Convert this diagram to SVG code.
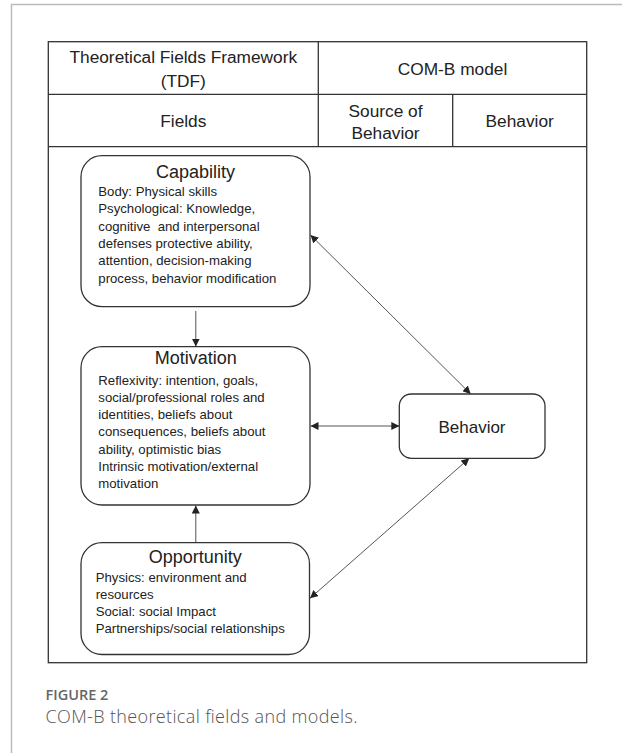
<svg xmlns="http://www.w3.org/2000/svg" width="622" height="753" viewBox="0 0 622 753">
<defs>
<style>
.frame{fill:none;stroke:#bbbbbb;stroke-width:1.5}
.tbl{fill:none;stroke:#333;stroke-width:1.3}
.box{fill:#fff;stroke:#333;stroke-width:1.3}
.hdr{font-family:"Liberation Sans",Arial,sans-serif;font-size:17.3px;fill:#222;text-anchor:middle}
.ttl{font-family:"Liberation Sans",Arial,sans-serif;font-size:18px;fill:#222;text-anchor:middle}
.body{font-family:"Liberation Sans",Arial,sans-serif;font-size:13.2px;fill:#222;white-space:pre}
.conn{fill:none;stroke:#555;stroke-width:1}
.cap1{font-family:"Open Sans",sans-serif;font-size:14.5px;font-weight:600;fill:#666}
.cap2{font-family:"Open Sans",sans-serif;font-size:18px;font-weight:300;fill:#555}
</style>
<marker id="ah" viewBox="0 0 10 10" refX="10" refY="5" markerWidth="8" markerHeight="8" markerUnits="userSpaceOnUse" orient="auto-start-reverse">
<path d="M0,0 L10,5 L0,10 z" fill="#222"/>
</marker>
</defs>
<rect width="622" height="753" fill="#fff"/>
<path class="frame" d="M11.5,753 V4.5 H622"/>
<g id="table">
<rect class="tbl" x="48.3" y="41.7" width="538.4" height="621"/>
<line class="tbl" x1="48.3" y1="94.3" x2="586.7" y2="94.3"/>
<line class="tbl" x1="48.3" y1="146.7" x2="586.7" y2="146.7"/>
<line class="tbl" x1="318.3" y1="41.7" x2="318.3" y2="146.7"/>
<line class="tbl" x1="452.7" y1="94.3" x2="452.7" y2="146.7"/>
<text class="hdr" x="183.3" y="63.3">Theoretical Fields Framework</text>
<text class="hdr" x="183.3" y="86.7">(TDF)</text>
<text class="hdr" x="452.5" y="75">COM-B model</text>
<text class="hdr" x="183.3" y="127.3">Fields</text>
<text class="hdr" x="385.5" y="117.3">Source of</text>
<text class="hdr" x="385.5" y="139">Behavior</text>
<text class="hdr" x="519.7" y="127.3">Behavior</text>
</g>
<g id="connectors">
<line class="conn" x1="195.8" y1="311" x2="195.8" y2="346.5" marker-end="url(#ah)"/>
<line class="conn" x1="195.8" y1="542.7" x2="195.8" y2="505.5" marker-end="url(#ah)"/>
<line class="conn" x1="310.5" y1="235" x2="470.7" y2="394" marker-start="url(#ah)" marker-end="url(#ah)"/>
<line class="conn" x1="310.5" y1="426" x2="399.3" y2="426" marker-start="url(#ah)" marker-end="url(#ah)"/>
<line class="conn" x1="310" y1="598.3" x2="469.3" y2="458.3" marker-start="url(#ah)" marker-end="url(#ah)"/>
</g>
<g id="capability">
<rect class="box" x="81" y="155.7" width="229" height="151" rx="21"/>
<text class="ttl" x="195.5" y="177.7">Capability</text>
<text class="body" x="98.3" y="196">Body: Physical skills</text>
<text class="body" x="98.3" y="213.3">Psychological: Knowledge,</text>
<text class="body" x="98.3" y="230.7" xml:space="preserve">cognitive  and interpersonal</text>
<text class="body" x="98.3" y="248">defenses protective ability,</text>
<text class="body" x="98.3" y="265.3">attention, decision-making</text>
<text class="body" x="98.3" y="282.7">process, behavior modification</text>
</g>
<g id="motivation">
<rect class="box" x="81" y="346.7" width="229" height="158.3" rx="21"/>
<text class="ttl" x="195.8" y="364.3">Motivation</text>
<text class="body" x="98.3" y="385">Reflexivity: intention, goals,</text>
<text class="body" x="98.3" y="402">social/professional roles and</text>
<text class="body" x="98.3" y="419.2">identities, beliefs about</text>
<text class="body" x="98.3" y="436.3">consequences, beliefs about</text>
<text class="body" x="98.3" y="453.5">ability, optimistic bias</text>
<text class="body" x="98.3" y="470.7">Intrinsic motivation/external</text>
<text class="body" x="98.3" y="487.8">motivation</text>
</g>
<g id="opportunity">
<rect class="box" x="81" y="542.7" width="228.5" height="111.8" rx="21"/>
<text class="ttl" x="195.3" y="563.3">Opportunity</text>
<text class="body" x="95.7" y="581.7">Physics: environment and</text>
<text class="body" x="95.7" y="599">resources</text>
<text class="body" x="95.7" y="616.2">Social: social Impact</text>
<text class="body" x="95.7" y="633.4">Partnerships/social relationships</text>
</g>
<g id="behavior">
<rect class="box" x="399.3" y="394" width="145.7" height="64.3" rx="12"/>
<text class="ttl" x="472" y="432.7" style="font-size:17px">Behavior</text>
</g>
<g id="caption">
<text class="cap1" x="45.5" y="700">FIGURE 2</text>
<text class="cap2" x="45.5" y="723.3" textLength="312" lengthAdjust="spacing">COM-B theoretical fields and models.</text>
</g>
</svg>
